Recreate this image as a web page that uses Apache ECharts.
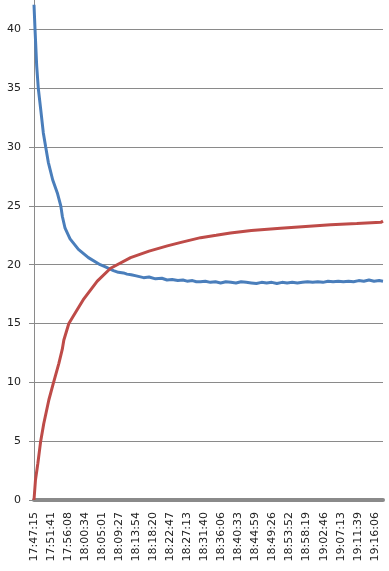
<!DOCTYPE html>
<html>
<head>
<meta charset="utf-8">
<script src="https://cdn.jsdelivr.net/npm/echarts@6/dist/echarts.min.js"></script>
<style>
html,body{margin:0;padding:0;background:#fff;}
#chart{width:389px;height:571px;}
</style>
</head>
<body>
<div id="chart"></div>
<script>
// Tick labels of the time axis (one every 266.55 s from 17:47:15)
var tickLabels = ["17:47:15","17:51:41","17:56:08","18:00:34","18:05:01","18:09:27","18:13:54",
  "18:18:20","18:22:47","18:27:13","18:31:40","18:36:06","18:40:33","18:44:59","18:49:26",
  "18:53:52","18:58:19","19:02:46","19:07:13","19:11:39","19:16:06"];
var tickStep = 266.55;   // seconds between labelled ticks
var axisEnd = 5460;      // seconds covered by the axis

// Blue series: seconds since start, value
var blueTime = [0,16,42,67,105,146,183,224,293,365,419,444,486,564,695,851,1035,1100,1160,1243,1320,1400,1454,1520,1600,1714,1800,1900,2000,2081,2160,2250,2330,2394,2480,2540,2603,2680,2760,2840,2920,3000,3080,3160,3240,3320,3400,3480,3560,3640,3720,3800,3880,3960,4040,4120,4200,4280,4360,4440,4520,4600,4680,4760,4840,4920,5000,5080,5160,5240,5320,5400,5460];
var blueVals = [42.1,40.0,36.9,35.0,33.2,31.2,30.0,28.7,27.2,26.1,25.0,24.1,23.1,22.2,21.3,20.6,20.0,19.85,19.7,19.5,19.35,19.3,19.2,19.15,19.05,18.9,18.95,18.8,18.85,18.7,18.75,18.65,18.7,18.6,18.65,18.55,18.55,18.6,18.5,18.55,18.45,18.55,18.5,18.45,18.55,18.5,18.45,18.4,18.5,18.45,18.5,18.4,18.5,18.45,18.5,18.45,18.5,18.55,18.5,18.55,18.5,18.6,18.55,18.6,18.55,18.6,18.55,18.65,18.6,18.7,18.6,18.65,18.6];

// Red series: seconds since start, value
var redTime = [0,23,60,102,153,232,301,388,442,467,545,623,780,990,1198,1511,1800,2086,2300,2607,2850,3073,3400,3857,4250,4641,5050,5425,5460];
var redVals = [0.0,1.7,3.1,4.9,6.5,8.5,9.9,11.6,12.8,13.6,15.0,15.7,17.1,18.6,19.7,20.6,21.15,21.6,21.9,22.3,22.5,22.7,22.9,23.1,23.25,23.4,23.5,23.6,23.7];

function pairs(t, v) { return t.map(function (x, i) { return [x, v[i]]; }); }

var chart = echarts.init(document.getElementById('chart'), null, {renderer: 'canvas'});
chart.setOption({
  animation: false,
  backgroundColor: '#ffffff',
  grid: {left: 34, right: 6, top: 0, bottom: 71, containLabel: false},
  xAxis: {
    type: 'value',
    min: 0,
    max: axisEnd,
    interval: tickStep,
    axisLine: {show: true, lineStyle: {color: '#8a8a8a', width: 4}},
    axisTick: {show: false},
    splitLine: {show: false},
    axisLabel: {
      rotate: 90,
      margin: 12,
      showMaxLabel: false,
      color: '#222',
      fontFamily: 'DejaVu Sans, Verdana, sans-serif',
      fontSize: 11,
      formatter: function (v) {
        var i = Math.round(v / tickStep);
        return (Math.abs(v - i * tickStep) < 1 && tickLabels[i]) ? tickLabels[i] : '';
      }
    }
  },
  yAxis: {
    type: 'value',
    min: 0,
    max: 42.5,
    interval: 5,
    axisLine: {show: true, lineStyle: {color: '#8a8a8a', width: 1}},
    axisTick: {show: true, length: 5, lineStyle: {color: '#8a8a8a'}},
    splitLine: {show: true, showMinLine: false, showMaxLine: false, lineStyle: {color: '#8a8a8a', width: 1}},
    axisLabel: {
      showMaxLabel: false,
      margin: 13,
      color: '#222',
      fontFamily: 'DejaVu Sans, Verdana, sans-serif',
      fontSize: 11
    }
  },
  series: [
    {
      type: 'line',
      data: pairs(blueTime, blueVals),
      showSymbol: false,
      clip: true,
      lineStyle: {color: '#4a7ebb', width: 3},
      itemStyle: {color: '#4a7ebb'}
    },
    {
      type: 'line',
      data: pairs(redTime, redVals),
      showSymbol: false,
      clip: true,
      lineStyle: {color: '#be4b48', width: 3},
      itemStyle: {color: '#be4b48'}
    }
  ]
});
</script>
</body>
</html>
